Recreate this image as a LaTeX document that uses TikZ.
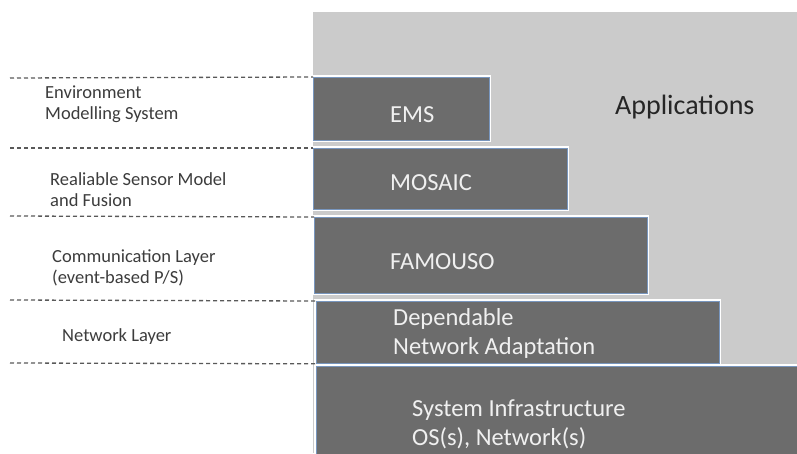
\documentclass[tikz,border=0pt]{standalone}
\usepackage{fontspec}
\setmainfont{Carlito}
\usepackage{tikz}

\definecolor{appgray}{RGB}{203,203,203}
\definecolor{boxgray}{RGB}{108,108,108}
\definecolor{edgeblue}{RGB}{120,150,190}
\definecolor{labelgray}{RGB}{60,60,60}

\begin{document}
\begin{tikzpicture}[x=1pt, y=-1pt,
	layer/.style={rectangle, anchor=north west, inner sep=0pt, fill=boxgray, draw=edgeblue, line width=0.8pt, preaction={draw=white, line width=4pt}},
	boxtext/.style={anchor=west, inner sep=0pt, align=left, text=white!94!black, font=\fontsize{24.5}{29}\selectfont},
	sidetext/.style={anchor=west, inner sep=0pt, align=left, text=labelgray, font=\fontsize{18.5}{21}\selectfont},
	layerline/.style={dashed, dash pattern=on 4pt off 3pt, black!65, line width=1.3pt}]
	\useasboundingbox (0,0) rectangle (797,453);

	\fill[appgray] (313,12) rectangle (797,453);
	\node[anchor=west, inner sep=0pt, text=black!85, font=\fontsize{28}{32}\selectfont] (apps) at (615,107) {Applications};

	% layers
	\node[layer, minimum width=176pt, minimum height=63pt] (ems) at (313,77) {};
	\node[layer, minimum width=254pt, minimum height=61pt] (mosaic) at (313,148) {};
	\node[layer, minimum width=333pt, minimum height=76pt] (famouso) at (314,217) {};
	\node[layer, minimum width=403pt, minimum height=62pt] (dna) at (316,301) {};
	\node[layer, minimum width=490pt, minimum height=95pt] (sys) at (316,366) {};

	\node[boxtext] (emstext) at (390,115) {EMS};
	\node[boxtext] (mosaictext) at (390,183) {MOSAIC};
	\node[boxtext] (famousotext) at (390,262) {FAMOUSO};
	\node[boxtext] (dnatext) at (393,333) {Dependable\\Network Adaptation};
	\node[boxtext] (systext) at (412,424) {System Infrastructure\\OS(s), Network(s)};

	% side labels
	\node[sidetext] (emslabel) at (45,104) {Environment\\Modelling System};
	\node[sidetext] (mosaiclabel) at (50,190) {Realiable Sensor Model\\and Fusion};
	\node[sidetext] (famousolabel) at (52,268) {Communication Layer\\(event-based P/S)};
	\node[sidetext] (dnalabel) at (62,337) {Network Layer};

	% dashed separators
	\coordinate (d1) at (10,78);
	\coordinate (d2) at (10,148);
	\coordinate (d3) at (10,216);
	\coordinate (d4) at (10,300);
	\coordinate (d5) at (10,363);
	\draw[layerline] (d1) -- (ems.north west);
	\draw[layerline] (d2) -- (mosaic.north west);
	\draw[layerline] (d3) -- (famouso.north west);
	\draw[layerline] (d4) -- (dna.north west);
	\draw[layerline] (d5) -- (dna.south west);
\end{tikzpicture}
\end{document}
